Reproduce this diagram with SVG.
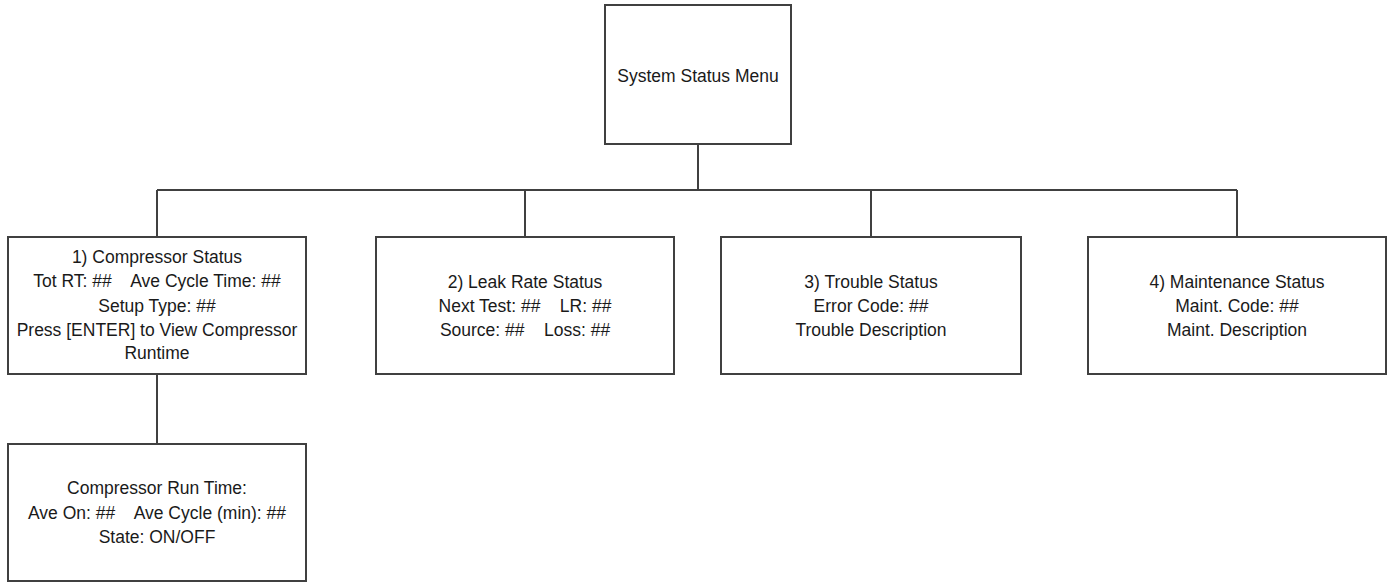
<svg xmlns="http://www.w3.org/2000/svg" width="1392" height="583" viewBox="0 0 1392 583">
<style>
.box{fill:#fff;stroke:#404040;stroke-width:2}
.con{fill:none;stroke:#404040;stroke-width:2}
text{font-family:"Liberation Sans",Arial,sans-serif;font-size:17.5px;fill:#1a1a1a;text-anchor:middle;white-space:pre}
</style>
<rect width="1392" height="583" fill="#fff"/>
<g id="connectors">
<line class="con" x1="698" y1="144" x2="698" y2="190"/>
<line class="con" x1="157" y1="190" x2="1237" y2="190"/>
<line class="con" x1="157" y1="190" x2="157" y2="237"/>
<line class="con" x1="525" y1="190" x2="525" y2="237"/>
<line class="con" x1="871" y1="190" x2="871" y2="237"/>
<line class="con" x1="1237" y1="190" x2="1237" y2="237"/>
<line class="con" x1="157" y1="374" x2="157" y2="444"/>
</g>
<g id="system-status-menu">
<rect class="box" x="605" y="5" width="186" height="139"/>
<text x="698" y="82">System Status Menu</text>
</g>
<g id="compressor-status">
<rect class="box" x="8" y="237" width="298" height="137"/>
<text x="157" y="263">1) Compressor Status</text>
<text x="157" y="287" xml:space="preserve">Tot RT: ##    Ave Cycle Time: ##</text>
<text x="157" y="312">Setup Type: ##</text>
<text x="157" y="336">Press [ENTER] to View Compressor</text>
<text x="157" y="359">Runtime</text>
</g>
<g id="leak-rate-status">
<rect class="box" x="376" y="237" width="298" height="137"/>
<text x="525" y="288">2) Leak Rate Status</text>
<text x="525" y="312" xml:space="preserve">Next Test: ##    LR: ##</text>
<text x="525" y="336" xml:space="preserve">Source: ##    Loss: ##</text>
</g>
<g id="trouble-status">
<rect class="box" x="721" y="237" width="300" height="137"/>
<text x="871" y="288">3) Trouble Status</text>
<text x="871" y="312">Error Code: ##</text>
<text x="871" y="336">Trouble Description</text>
</g>
<g id="maintenance-status">
<rect class="box" x="1088" y="237" width="298" height="137"/>
<text x="1237" y="288">4) Maintenance Status</text>
<text x="1237" y="312">Maint. Code: ##</text>
<text x="1237" y="336">Maint. Description</text>
</g>
<g id="compressor-run-time">
<rect class="box" x="8" y="444" width="298" height="137"/>
<text x="157" y="494">Compressor Run Time:</text>
<text x="157" y="519" xml:space="preserve">Ave On: ##    Ave Cycle (min): ##</text>
<text x="157" y="543">State: ON/OFF</text>
</g>
</svg>
